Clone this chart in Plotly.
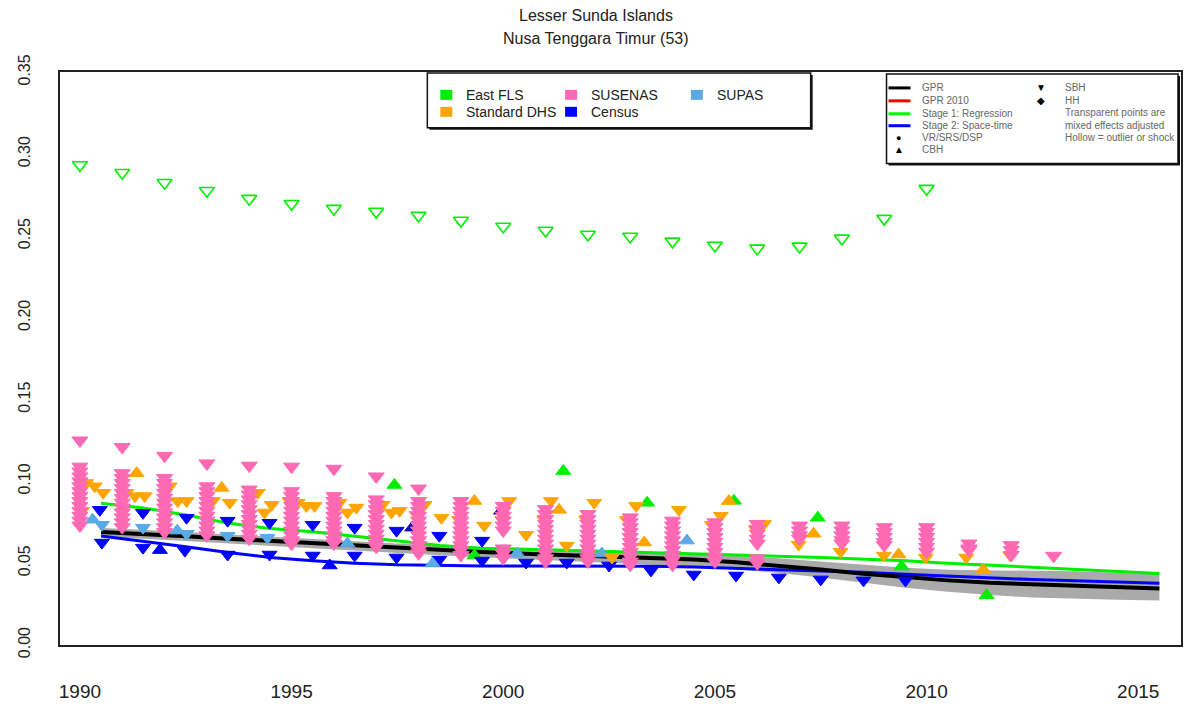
import plotly.graph_objects as go

# ---------------------------------------------------------------------------
# Data
# ---------------------------------------------------------------------------
line_years = [1990.5, 1991.5, 1992.5, 1993.5, 1994.5, 1995.5, 1996.5, 1997.5,
              1998.5, 1999.5, 2000.5, 2001.5, 2002.5, 2003.5, 2004.5, 2005.5,
              2006.5, 2007.5, 2008.5, 2009.5, 2010.5, 2011.5, 2012.5, 2013.5,
              2014.5, 2015.5]

gpr = [0.0690, 0.0680, 0.0665, 0.0650, 0.0636, 0.0620, 0.0606, 0.0592,
       0.0580, 0.0568, 0.0558, 0.0550, 0.0543, 0.0536, 0.0522, 0.0505,
       0.0486, 0.0462, 0.0435, 0.0412, 0.0395, 0.0380, 0.0370, 0.0362,
       0.0352, 0.0346]
gpr_lower = [0.0660, 0.0650, 0.0635, 0.0620, 0.0605, 0.0590, 0.0575, 0.0560,
             0.0548, 0.0536, 0.0525, 0.0515, 0.0505, 0.0495, 0.0480, 0.0462,
             0.0440, 0.0412, 0.0380, 0.0350, 0.0325, 0.0305, 0.0290, 0.0282,
             0.0276, 0.0272]
gpr_upper = [0.0715, 0.0705, 0.0690, 0.0677, 0.0663, 0.0648, 0.0634, 0.0620,
             0.0608, 0.0597, 0.0588, 0.0580, 0.0574, 0.0568, 0.0558, 0.0545,
             0.0530, 0.0510, 0.0490, 0.0472, 0.0460, 0.0458, 0.0455, 0.0450,
             0.0442, 0.0432]
stage1 = [0.0866, 0.0838, 0.0795, 0.0745, 0.0712, 0.0692, 0.0665, 0.0635,
          0.0608, 0.0592, 0.0585, 0.0580, 0.0575, 0.0565, 0.0558, 0.0550,
          0.0543, 0.0535, 0.0527, 0.0515, 0.0500, 0.0488, 0.0475, 0.0462,
          0.0450, 0.0437]
stage2 = [0.0666, 0.0635, 0.0600, 0.0565, 0.0535, 0.0515, 0.0500, 0.0490,
          0.0485, 0.0483, 0.0483, 0.0483, 0.0483, 0.0481, 0.0476, 0.0469,
          0.0460, 0.0452, 0.0445, 0.0432, 0.0420, 0.0410, 0.0400, 0.0392,
          0.0384, 0.0377]

# SUSENAS (SBH) - one column of estimates per year
susenas_years = [1990, 1991, 1992, 1993, 1994, 1995, 1996, 1997, 1998, 1999,
                 2000, 2001, 2002, 2003, 2004, 2005, 2006, 2007, 2008, 2009,
                 2010, 2011, 2012, 2013]
susenas_cols = [
    [0.125, 0.109, 0.106, 0.103, 0.100, 0.097, 0.094, 0.091, 0.088, 0.085, 0.082, 0.079, 0.076, 0.073],
    [0.121, 0.105, 0.102, 0.099, 0.096, 0.093, 0.090, 0.087, 0.084, 0.081, 0.078, 0.075, 0.072],
    [0.1156, 0.102, 0.099, 0.096, 0.093, 0.090, 0.087, 0.084, 0.081, 0.078, 0.075, 0.072, 0.069],
    [0.111, 0.097, 0.094, 0.091, 0.088, 0.085, 0.082, 0.079, 0.076, 0.073, 0.070, 0.067],
    [0.1096, 0.095, 0.092, 0.089, 0.086, 0.083, 0.080, 0.077, 0.074, 0.071, 0.068, 0.065],
    [0.109, 0.094, 0.091, 0.088, 0.085, 0.082, 0.079, 0.076, 0.073, 0.070, 0.067, 0.064, 0.062],
    [0.1077, 0.091, 0.088, 0.085, 0.082, 0.079, 0.076, 0.073, 0.070, 0.067, 0.064, 0.062],
    [0.103, 0.089, 0.086, 0.083, 0.080, 0.077, 0.074, 0.071, 0.068, 0.065, 0.062, 0.060],
    [0.0956, 0.088, 0.085, 0.082, 0.079, 0.076, 0.073, 0.070, 0.067, 0.064, 0.061, 0.058, 0.056],
    [0.088, 0.085, 0.082, 0.079, 0.076, 0.073, 0.070, 0.067, 0.064, 0.061, 0.058, 0.055],
    [0.085, 0.082, 0.079, 0.076, 0.073, 0.070, 0.059, 0.056, 0.053],
    [0.083, 0.080, 0.077, 0.074, 0.071, 0.068, 0.065, 0.062, 0.059, 0.056, 0.053, 0.051],
    [0.080, 0.077, 0.074, 0.071, 0.068, 0.065, 0.062, 0.059, 0.056, 0.053, 0.051],
    [0.078, 0.075, 0.072, 0.069, 0.066, 0.063, 0.060, 0.057, 0.054, 0.051, 0.049],
    [0.076, 0.073, 0.070, 0.067, 0.064, 0.061, 0.058, 0.055, 0.052, 0.049],
    [0.075, 0.072, 0.069, 0.066, 0.063, 0.060, 0.057, 0.054, 0.051],
    [0.074, 0.071, 0.068, 0.065, 0.062, 0.053, 0.050],
    [0.073, 0.070, 0.067, 0.065],
    [0.073, 0.070, 0.067, 0.064, 0.062],
    [0.072, 0.069, 0.066, 0.063, 0.061],
    [0.072, 0.069, 0.066, 0.063, 0.060, 0.057],
    [0.062, 0.059, 0.058],
    [0.061, 0.058, 0.055],
    [0.0545],
]

# Standard DHS
dhs_sbh_x = [1990.15, 1990.35, 1990.55, 1990.05, 1991.1, 1991.3, 1991.53, 1991.0,
             1992.12, 1992.31, 1992.52, 1993.14, 1993.54, 1994.2, 1994.36, 1994.53,
             1994.95, 1995.14, 1995.35, 1995.54, 1996.13, 1996.32, 1996.53,
             1997.15, 1997.36, 1997.55, 1998.14, 1997.95, 1998.54, 1998.96, 1999.55,
             2000.14, 1999.98, 2000.54, 2001.13, 2000.97, 2001.5, 2002.15, 2001.96,
             2002.57, 2003.14, 2002.92, 2004.15, 2005.14, 2004.93, 2006.16, 2005.97,
             2006.98, 2007.97, 2008.99, 2009.98, 2010.94, 2011.98]
dhs_sbh_y = [0.099, 0.097, 0.093, 0.082, 0.093, 0.091, 0.091, 0.081,
             0.097, 0.088, 0.088, 0.088, 0.087, 0.093, 0.081, 0.0857,
             0.088, 0.087, 0.085, 0.085, 0.087, 0.081, 0.084,
             0.0857, 0.081, 0.082, 0.0857, 0.0796, 0.0778, 0.0765, 0.073,
             0.088, 0.0765, 0.0674, 0.088, 0.0765, 0.0608, 0.087, 0.0765,
             0.0535, 0.085, 0.0765, 0.0826, 0.079, 0.0735, 0.074, 0.0705,
             0.0614, 0.057, 0.0547, 0.0535, 0.0535, 0.0547]
dhs_cbh_x = [1991.34, 1993.35, 1999.32, 2001.32, 2003.33, 2005.33, 2007.33,
             2009.34, 2011.34]
dhs_cbh_y = [0.105, 0.096, 0.088, 0.0826, 0.0626, 0.088, 0.068, 0.0553, 0.046]

# Census
census_sbh_x = [1990.47, 1990.52, 1991.49, 1991.49, 1992.52, 1992.48, 1993.49,
                1993.49, 1994.48, 1994.48, 1995.5, 1995.5, 1996.49, 1996.49,
                1997.48, 1997.48, 1998.49, 1998.49, 1999.5, 1999.5, 2000.54,
                2001.5, 2002.5, 2003.49, 2004.5, 2005.5, 2006.51, 2007.5,
                2008.51, 2009.5]
census_sbh_y = [0.0826, 0.0626, 0.0808, 0.0595, 0.0778, 0.0577, 0.0760,
                0.0553, 0.0747, 0.0553, 0.0735, 0.0547, 0.0717, 0.0547,
                0.0699, 0.0535, 0.0668, 0.0522, 0.0638, 0.0516, 0.0504,
                0.0504, 0.0486, 0.0456, 0.0431, 0.0425, 0.0413, 0.0401,
                0.0395, 0.0395]
census_cbh_x = [1991.89, 1995.9]
census_cbh_y = [0.058, 0.0486]
census_adj_x = [1997.85, 1999.95]
census_adj_y = [0.0717, 0.082]

# SUPAS
supas_sbh_x = [1990.52, 1991.49, 1992.52, 1993.49, 1994.43]
supas_sbh_y = [0.0735, 0.0717, 0.0680, 0.0668, 0.0656]
supas_cbh_x = [1990.3, 1992.3, 1996.32, 1998.33, 2000.33, 2002.33, 2004.34]
supas_cbh_y = [0.0766, 0.0699, 0.0620, 0.0498, 0.0559, 0.0559, 0.0638]

# East FLS
fls_cbh_x = [1997.43, 1999.32, 2001.42, 2003.4, 2005.45, 2007.43, 2009.41, 2011.42]
fls_cbh_y = [0.0978, 0.0547, 0.1063, 0.0869, 0.0881, 0.0778, 0.0480, 0.0304]
fls_outlier_x = [1990, 1991, 1992, 1993, 1994, 1995, 1996, 1997, 1998, 1999,
                 2000, 2001, 2002, 2003, 2004, 2005, 2006, 2007, 2008, 2009, 2010]
fls_outlier_y = [0.2934, 0.2886, 0.2825, 0.2776, 0.2728, 0.2697, 0.2667,
                 0.2649, 0.2625, 0.2594, 0.2558, 0.2533, 0.2509, 0.2497,
                 0.2467, 0.2442, 0.2424, 0.2436, 0.2485, 0.2606, 0.2789]

# ---------------------------------------------------------------------------
# Styles
# ---------------------------------------------------------------------------
GREEN = "#00EE00"
PINK = "#FF69B4"
ORANGE = "#FFA500"
BLUE = "#0000FF"
SUPAS_BLUE = "#5AAAE6"
FONT = "Liberation Sans, Arial, sans-serif"

W, H = 1185, 704
L, R, T, B = 60, 2, 72, 56


def px(x):
    return (x - L) / (W - L - R)


def py(y):
    return (H - B - y) / (H - T - B)


def pts(fig, xs, ys, color, symbol, size=13):
    fig.add_trace(go.Scatter(
        x=xs, y=ys, mode="markers",
        marker=dict(color=color, symbol=symbol, size=size,
                    line=dict(color=color, width=1)),
        showlegend=False, hoverinfo="skip",
    ))


fig = go.Figure()

# uncertainty band + lines
fig.add_trace(go.Scatter(x=line_years, y=gpr_upper, mode="lines",
                         line=dict(width=0, color="#AAAAAA"),
                         showlegend=False, hoverinfo="skip"))
fig.add_trace(go.Scatter(x=line_years, y=gpr_lower, mode="lines",
                         line=dict(width=0, color="#AAAAAA"), fill="tonexty",
                         fillcolor="#AAAAAA", showlegend=False, hoverinfo="skip"))
fig.add_trace(go.Scatter(x=line_years, y=stage1, mode="lines",
                         line=dict(color=GREEN, width=3), showlegend=False))
fig.add_trace(go.Scatter(x=line_years, y=stage2, mode="lines",
                         line=dict(color=BLUE, width=3), showlegend=False))
fig.add_trace(go.Scatter(x=line_years, y=gpr, mode="lines",
                         line=dict(color="black", width=4), showlegend=False))

# data points
pts(fig, fls_cbh_x, fls_cbh_y, GREEN, "triangle-up")
pts(fig, census_sbh_x, census_sbh_y, BLUE, "triangle-down")
pts(fig, census_cbh_x, census_cbh_y, BLUE, "triangle-up")
pts(fig, census_adj_x, census_adj_y, "#0A0AB4", "triangle-up")
pts(fig, supas_sbh_x, supas_sbh_y, SUPAS_BLUE, "triangle-down")
pts(fig, supas_cbh_x, supas_cbh_y, SUPAS_BLUE, "triangle-up")
pts(fig, dhs_sbh_x, dhs_sbh_y, ORANGE, "triangle-down")
pts(fig, dhs_cbh_x, dhs_cbh_y, ORANGE, "triangle-up")

sus_x, sus_y = [], []
for yr, col in zip(susenas_years, susenas_cols):
    sus_x += [yr] * len(col)
    sus_y += col
pts(fig, sus_x, sus_y, PINK, "triangle-down", size=14)

fig.add_trace(go.Scatter(
    x=fls_outlier_x, y=fls_outlier_y, mode="markers",
    marker=dict(symbol="triangle-down-open", size=13,
                color=GREEN, line=dict(color=GREEN, width=1.6)),
    showlegend=False, hoverinfo="skip",
))

# ---------------------------------------------------------------------------
# Legends drawn by hand (two boxed legends like the R original)
# ---------------------------------------------------------------------------
shapes, anns = [], []


def box(x0, y0, x1, y1):
    shapes.append(dict(type="rect", xref="paper", yref="paper",
                       x0=px(x0 + 2), x1=px(x1 + 2), y0=py(y0 + 2), y1=py(y1 + 2),
                       line=dict(width=0), fillcolor="#111111"))
    shapes.append(dict(type="rect", xref="paper", yref="paper",
                       x0=px(x0), x1=px(x1), y0=py(y0), y1=py(y1),
                       line=dict(color="#111111", width=1.5), fillcolor="white"))


def label(x, y, text, size, color, anchor="left"):
    anns.append(dict(xref="paper", yref="paper", x=px(x), y=py(y), text=text,
                     showarrow=False, xanchor=anchor, yanchor="middle",
                     font=dict(family=FONT, size=size, color=color)))


box(428, 73, 812, 128)
src_items = [("East FLS", GREEN, 447, 95), ("SUSENAS", PINK, 572, 95),
             ("SUPAS", SUPAS_BLUE, 698, 95), ("Standard DHS", ORANGE, 447, 112),
             ("Census", BLUE, 572, 112)]
for name, color, cx, cy in src_items:
    shapes.append(dict(type="rect", xref="paper", yref="paper",
                       x0=px(cx - 6), x1=px(cx + 6), y0=py(cy - 5), y1=py(cy + 5),
                       line=dict(width=0), fillcolor=color))
    label(cx + 18, cy, name, 14, "#222222")

box(888, 74, 1180, 164)
line_items = [("GPR", "black", 88), ("GPR 2010", "red", 101),
              ("Stage 1: Regression", "#00FF00", 114),
              ("Stage 2: Space-time", BLUE, 126)]
for name, color, cy in line_items:
    shapes.append(dict(type="line", xref="paper", yref="paper",
                       x0=px(890), x1=px(912), y0=py(cy), y1=py(cy),
                       line=dict(color=color, width=3)))
    label(922, cy, name, 10, "#666666")
label(900, 138, "●", 9, "black", "center")
label(922, 138, "VR/SRS/DSP", 10, "#666666")
label(900, 150, "▲", 10, "black", "center")
label(922, 150, "CBH", 10, "#666666")
label(1043, 88, "▼", 10, "black", "center")
label(1065, 88, "SBH", 10, "#666666")
label(1043, 101, "◆", 10, "black", "center")
label(1065, 101, "HH", 10, "#666666")
label(1065, 113, "Transparent points are", 10, "#666666")
label(1065, 126, "mixed effects adjusted", 10, "#666666")
label(1065, 138, "Hollow = outlier or shock", 10, "#666666")

# title
label(597, 15, "Lesser Sunda Islands", 16, "#222222", "center")
label(597, 38, "Nusa Tenggara Timur (53)", 16, "#222222", "center")

y_ticks = [0.0, 0.05, 0.10, 0.15, 0.20, 0.25, 0.30, 0.35]
x_ticks = [1990, 1995, 2000, 2005, 2010, 2015]

fig.update_layout(
    width=W, height=H,
    margin=dict(l=L, r=R, t=T, b=B),
    paper_bgcolor="white", plot_bgcolor="white",
    font=dict(family=FONT, color="#222222"),
    shapes=shapes, annotations=anns,
    showlegend=False,
    xaxis=dict(range=[1989.53, 2016.01], showgrid=False, zeroline=False,
               showline=True, mirror=True, linecolor="#222222", linewidth=2,
               tickmode="array", tickvals=x_ticks,
               ticks="", ticklabelstandoff=28,
               tickfont=dict(size=19, color="#222222")),
    yaxis=dict(range=[0, 0.3502], showgrid=False, zeroline=False,
               showline=True, mirror=True, linecolor="#222222", linewidth=2,
               tickmode="array", tickvals=y_ticks,
               ticktext=["%.2f" % v for v in y_ticks],
               ticks="", tickangle=-90, ticklabelstandoff=22,
               tickfont=dict(size=16, color="#222222")),
)

fig.write_html("out.html", config={"displayModeBar": False},
               post_script="document.body.style.margin='0';")
